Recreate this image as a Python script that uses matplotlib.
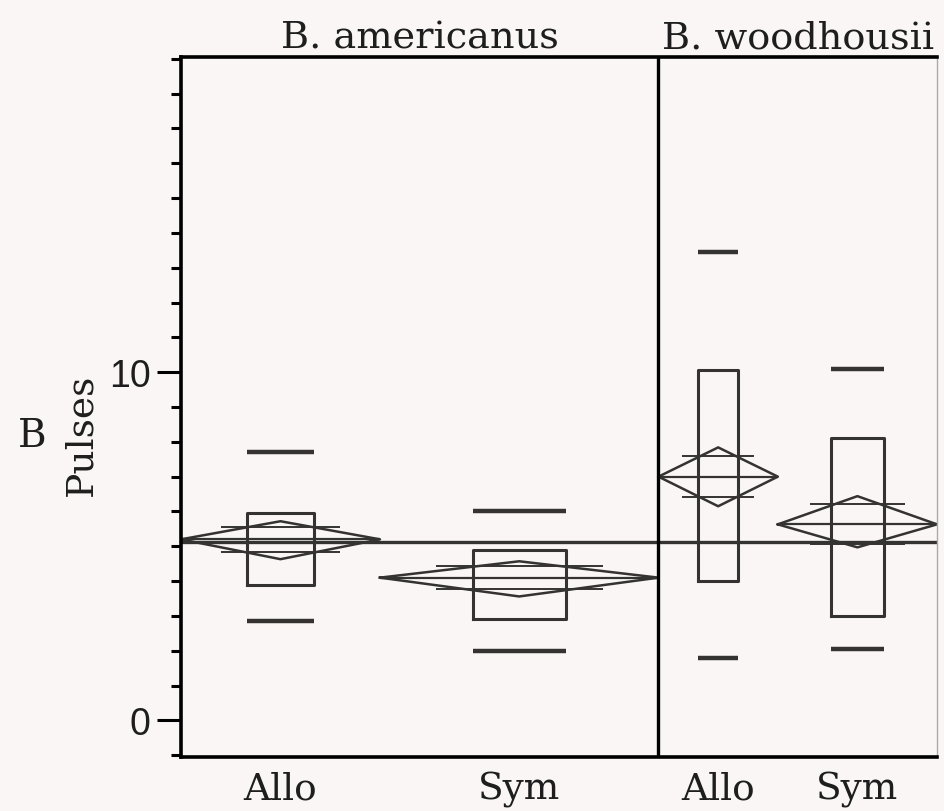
import matplotlib
matplotlib.use('Agg')
import numpy as np
import matplotlib.pyplot as plt
from matplotlib.ticker import MultipleLocator

# groups: two species, allopatric / sympatric
species = ['B. americanus', 'B. woodhousii']
groups = ['Allo', 'Sym', 'Allo', 'Sym']
n = [20, 28, 12, 16]                 # group widths are proportional to n
q10 = [2.85, 2.0, 1.8, 2.05]
q25 = [3.9, 2.9, 4.0, 3.0]
q75 = [5.95, 4.9, 10.05, 8.1]
q90 = [7.7, 6.0, 13.45, 10.1]
means = [5.2, 4.1, 7.0, 5.63]
ci_lo = [4.63, 3.56, 6.15, 4.97]
ci_hi = [5.72, 4.57, 7.84, 6.44]
grand_mean = 5.11

bg = '#faf6f6'
ink = '#353232'
txt = '#1e1e1e'
serif = ['DejaVu Serif']

fig = plt.figure(figsize=(9.44, 8.12), dpi=100, facecolor=bg)
W, H = 944, 812
ax = fig.add_axes([181 / W, (H - 758) / H, (937 - 181) / W, (758 - 58) / H])
ax.set_facecolor(bg)

edges = np.concatenate([[0], np.cumsum(n)])
centers = (edges[:-1] + edges[1:]) / 2

for i in range(len(groups)):
    l, r = edges[i], edges[i + 1]
    c, w = centers[i], r - l
    bw = w / 6
    # quantile box + 10/90 ticks
    ax.plot([c - bw, c + bw, c + bw, c - bw, c - bw],
            [q25[i], q25[i], q75[i], q75[i], q25[i]], color=ink, lw=2.2)
    ax.hlines([q10[i], q90[i]], c - bw, c + bw, color=ink, lw=3.2)
    # means diamond with overlap marks
    ax.plot([l, c, r, c, l], [means[i], ci_hi[i], means[i], ci_lo[i], means[i]],
            color=ink, lw=1.8)
    ax.hlines(means[i], l, r, color=ink, lw=1.6)
    d = (ci_hi[i] - means[i]) / np.sqrt(2)
    ax.hlines([means[i] + d, means[i] - d], c - 0.3 * w, c + 0.3 * w, color=ink, lw=1.4)

ax.axhline(grand_mean, color=ink, lw=2.4)
ax.axvline(edges[2], color='black', lw=2.4)

ax.set_xlim(edges[0], edges[-1])
ax.set_ylim(-1.05, 19.05)

ax.set_yticks([0, 10])
ax.yaxis.set_minor_locator(MultipleLocator(1))
ax.tick_params(axis='y', which='major', length=17, width=2.2, pad=5,
               labelsize=27, direction='out', color='black')
ax.tick_params(axis='y', which='minor', length=7, width=2.2, direction='out', color='black')
for t in ax.get_yticklabels():
    t.set_fontfamily('Liberation Sans')
    t.set_color(txt)

ax.set_xticks(centers)
ax.set_xticklabels(groups, fontfamily=serif, fontsize=27, color=txt)
ax.tick_params(axis='x', length=0, pad=10)

for s in ['left', 'bottom', 'top']:
    ax.spines[s].set_linewidth(2.6)
    ax.spines[s].set_color('black')
ax.spines['right'].set_linewidth(1.0)
ax.spines['right'].set_color('#aaaaaa')

# species headers above the top rule
for k, name in enumerate(species):
    cx = (edges[2 * k] + edges[2 * k + 2]) / 2
    ax.text(cx, 1.014, name, transform=ax.get_xaxis_transform(), ha='center',
            va='baseline', fontfamily=serif, fontsize=27.5, color=txt)

fig.text(81 / W, 1 - 435 / H, 'Pulses', rotation=90, ha='center', va='center',
         fontfamily=serif, fontsize=27, color=txt)
fig.text(32 / W, 1 - 437 / H, 'B', ha='center', va='center',
         fontfamily=serif, fontsize=28, color=txt)

fig.savefig('out.png', dpi=100, facecolor=bg)
